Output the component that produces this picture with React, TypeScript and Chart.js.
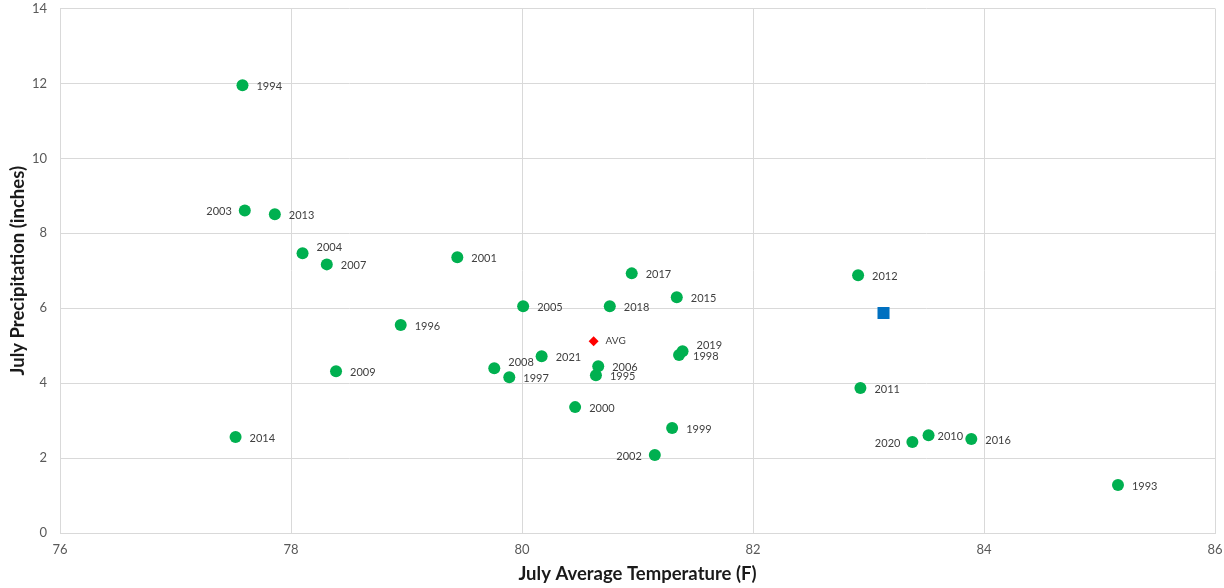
import React, { useEffect, useRef } from "react";
import { Chart, registerables } from "chart.js";

Chart.register(...registerables);

// Data
const years = [
  "1994", "2003", "2013", "2004", "2007", "2001", "1996", "2009", "2014",
  "2005", "2008", "1997", "2021", "2006", "1995", "2000", "2018", "2017",
  "2015", "2019", "1998", "1999", "2002", "2012", "2011", "2020", "2010",
  "2016", "1993",
];
const julyTemp = [
  77.58, 77.6, 77.86, 78.1, 78.31, 79.44, 78.95, 78.39, 77.52,
  80.01, 79.76, 79.89, 80.17, 80.66, 80.64, 80.46, 80.76, 80.95,
  81.34, 81.39, 81.36, 81.3, 81.15, 82.91, 82.93, 83.38, 83.52,
  83.89, 85.16,
];
const julyPrecip = [
  11.95, 8.61, 8.51, 7.47, 7.17, 7.36, 5.55, 4.32, 2.56,
  6.05, 4.4, 4.16, 4.72, 4.45, 4.21, 3.36, 6.05, 6.93,
  6.29, 4.85, 4.75, 2.8, 2.08, 6.88, 3.87, 2.43, 2.61,
  2.51, 1.28,
];
const avgLabel = ["AVG"];
const avgTemp = [80.62];
const avgPrecip = [5.12];
const markTemp = [83.13];
const markPrecip = [5.87];

const xTicks = [76, 78, 80, 82, 84, 86];
const yTicks = [0, 2, 4, 6, 8, 10, 12, 14];

// label placement (style): [dx, dy, align]
const labelPlacement: Record<string, [number, number, CanvasTextAlign]> = {
  "2003": [-13, 1, "right"],
  "2002": [-13, 1, "right"],
  "2020": [-12, 1, "right"],
  "2004": [14, -6, "left"],
  "2008": [14, -6, "left"],
  "2019": [14, -6, "left"],
  "2010": [9, 1, "left"],
};

const FONT = "Lato, 'Open Sans', sans-serif";

export default function App() {
  const ref = useRef<HTMLCanvasElement | null>(null);

  useEffect(() => {
    if (!ref.current) return;

    const labelPlugin = {
      id: "pointLabels",
      afterDatasetsDraw(chart: any) {
        const ctx = chart.ctx;
        ctx.save();
        ctx.textBaseline = "middle";
        ctx.fillStyle = "#404040";
        const m0 = chart.getDatasetMeta(0);
        m0.data.forEach((el: any, i: number) => {
          const name = years[i];
          const p = labelPlacement[name] || [14, 1, "left"];
          ctx.font = `11px ${FONT}`;
          ctx.textAlign = p[2];
          ctx.fillText(name, el.x + p[0], el.y + p[1]);
        });
        const m1 = chart.getDatasetMeta(1);
        m1.data.forEach((el: any, i: number) => {
          ctx.font = `10px ${FONT}`;
          ctx.textAlign = "left";
          ctx.fillText(avgLabel[i], el.x + 12, el.y);
        });
        ctx.restore();
      },
    };

    const chart = new Chart(ref.current, {
      type: "scatter",
      data: {
        datasets: [
          {
            label: "Years",
            data: julyTemp.map((x, i) => ({ x, y: julyPrecip[i] })),
            backgroundColor: "#00b050",
            borderWidth: 0,
            pointRadius: 6,
            pointStyle: "circle",
          },
          {
            label: "AVG",
            data: avgTemp.map((x, i) => ({ x, y: avgPrecip[i] })),
            backgroundColor: "#ff0000",
            borderWidth: 0,
            pointRadius: 5,
            pointStyle: "rectRot",
          },
          {
            label: "Mark",
            data: markTemp.map((x, i) => ({ x, y: markPrecip[i] })),
            backgroundColor: "#0070c0",
            borderWidth: 0,
            pointRadius: 8.5,
            pointStyle: "rect",
          },
        ],
      },
      options: {
        animation: false,
        responsive: true,
        maintainAspectRatio: false,
        layout: { padding: { top: 8, right: 9, left: 0, bottom: 0 } },
        plugins: {
          legend: { display: false },
          tooltip: { enabled: false },
        },
        scales: {
          x: {
            type: "linear",
            min: xTicks[0],
            max: xTicks[xTicks.length - 1],
            afterBuildTicks: (s: any) => {
              s.ticks = xTicks.map((v) => ({ value: v }));
            },
            afterFit: (s: any) => {
              s.height = 55;
              s.paddingLeft = 0;
              s.paddingRight = 0;
            },
            grid: { color: "#d9d9d9", drawTicks: false, lineWidth: 1 },
            border: { color: "#d9d9d9" },
            ticks: {
              color: "#595959",
              font: { family: FONT, size: 13 },
              padding: 9,
              maxRotation: 0,
            },
            title: {
              display: true,
              text: "July Average Temperature (F)",
              color: "#1a1a1a",
              font: { family: FONT, size: 18.5, weight: "bold" },
              padding: { top: 4, bottom: 3 },
            },
          },
          y: {
            type: "linear",
            min: yTicks[0],
            max: yTicks[yTicks.length - 1],
            afterBuildTicks: (s: any) => {
              s.ticks = yTicks.map((v) => ({ value: v }));
            },
            afterFit: (s: any) => {
              s.width = 60;
              s.paddingTop = 0;
              s.paddingBottom = 0;
            },
            grid: { color: "#d9d9d9", drawTicks: false, lineWidth: 1 },
            border: { color: "#d9d9d9" },
            ticks: {
              color: "#595959",
              font: { family: FONT, size: 13 },
              padding: 13,
            },
            title: {
              display: true,
              text: "July Precipitation (inches)",
              color: "#1a1a1a",
              font: { family: FONT, size: 18.5, weight: "bold" },
              padding: { top: 7, bottom: 4 },
            },
          },
        },
      },
      plugins: [labelPlugin],
    } as any);

    return () => chart.destroy();
  }, []);

  return (
    <div
      style={{
        position: "absolute",
        left: 0,
        top: 0,
        width: 1224,
        height: 588,
        background: "#fff",
      }}
    >
      <canvas ref={ref} />
    </div>
  );
}
